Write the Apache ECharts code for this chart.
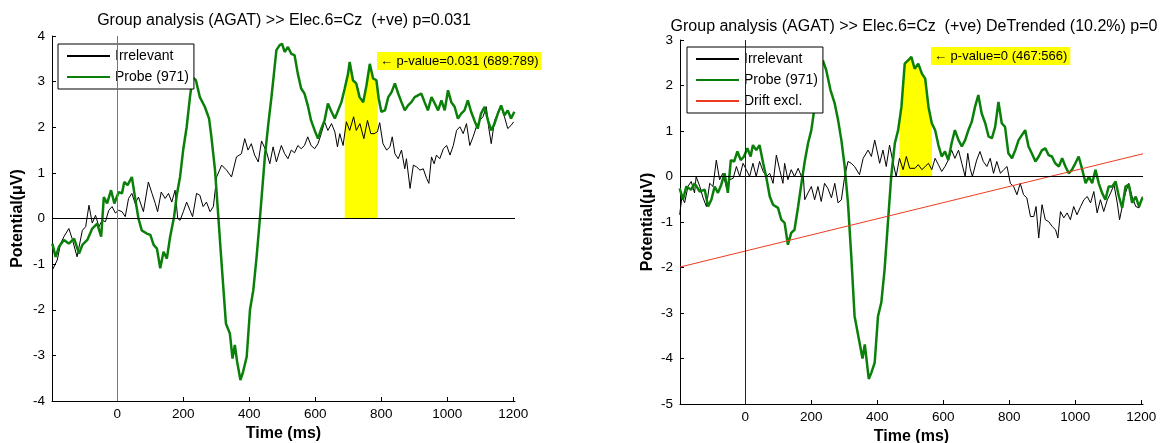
<!DOCTYPE html>
<html>
<head>
<meta charset="utf-8">
<script src="https://cdn.jsdelivr.net/npm/echarts@6/dist/echarts.min.js"></script>
<style>
  html, body { margin: 0; background: #fff; }
  #main { width: 1161px; height: 443px; }
</style>
</head>
<body>
<div id="main"></div>
<script>
// x ticks shared by both panels
var xTicks = [0, 200, 400, 600, 800, 1000, 1200];

// left panel: raw ERP
var irrLeftT = [-197,-182,-172,-162,-147,-137,-122,-106,-96,-86,-76,-66,-56,-46,-36,-26,-16,-6,4,14,24,34,44,54,64,79,94,105,115,122,133,145,155,165,175,183,190,200,210,220,228,240,250,260,270,281,291,301,316,331,346,361,376,386,396,406,416,427,437,452,462,472,482,497,507,517,527,537,547,557,567,577,587,598,608,618,628,638,649,659,667,674,684,694,704,716,724,735,747,758,768,778,788,795,805,816,826,833,841,851,861,871,876,887,897,907,917,927,937,944,952,960,967,977,988,998,1008,1018,1028,1038,1048,1058,1068,1078,1088,1098,1108,1118,1125,1133,1143,1153,1163,1173,1183,1193,1201];
var irrLeftV = [-1.13,-0.91,-0.55,-0.40,-0.22,-0.44,-0.84,-0.26,-0.18,0.29,-0.10,0.07,-0.18,-0.04,-0.07,0.18,0.26,0.12,0.18,0.15,0.04,0.44,0.55,0.33,0.47,0.15,0.80,0.55,0.33,0.15,0.58,0.44,0.55,0.36,0.62,0.00,-0.04,0.15,0.36,0.18,0.04,0.55,0.51,0.26,0.36,0.15,0.26,0.91,1.17,1.06,0.91,1.35,1.42,1.75,1.50,1.64,1.39,1.24,1.70,1.46,1.20,1.57,1.24,1.60,1.42,1.31,1.50,1.44,1.60,1.53,1.60,1.79,1.60,1.53,1.64,1.86,2.12,1.93,2.08,1.90,1.57,1.86,1.60,2.12,1.93,2.23,1.93,2.08,1.75,2.15,1.86,1.86,1.90,2.10,1.64,1.50,1.57,1.79,1.42,1.31,1.50,1.09,1.31,0.66,1.17,1.13,1.06,1.09,0.88,0.77,1.35,1.20,1.39,1.31,1.53,1.60,1.39,1.60,1.93,2.01,1.86,2.08,1.60,1.79,2.01,2.15,2.23,2.45,2.01,1.64,2.15,2.30,2.45,2.23,1.97,2.04,2.12];

var probeLeftT = [-197,-187,-177,-162,-147,-131,-116,-106,-91,-76,-61,-49,-41,-31,-19,-9,4,14,21,31,44,54,64,74,89,100,110,120,130,140,150,160,172,180,190,200,210,220,228,238,250,265,278,285,296,306,313,321,329,341,349,356,363,373,381,392,402,412,422,432,447,457,467,482,492,499,507,517,527,537,547,557,567,577,587,598,608,618,628,638,649,659,669,679,689,699,704,714,724,734,745,755,765,775,785,792,800,811,821,831,841,851,861,871,881,891,901,911,921,931,941,952,962,972,982,992,1002,1012,1022,1032,1042,1052,1062,1072,1082,1092,1102,1113,1123,1133,1143,1153,1163,1173,1183,1193,1203];
var probeLeftV = [-0.55,-0.84,-0.62,-0.47,-0.55,-0.44,-0.77,-0.58,-0.47,-0.22,-0.11,-0.40,0.47,0.33,0.62,0.33,0.58,0.55,0.80,0.73,0.91,0.44,0.00,-0.26,-0.33,-0.36,-0.58,-0.66,-1.09,-0.73,-0.88,-0.40,0.04,0.51,0.91,1.53,2.00,2.66,3.10,3.03,2.66,2.45,2.19,1.79,1.06,0.04,-0.69,-1.50,-2.30,-2.52,-3.07,-2.77,-3.14,-3.54,-3.36,-3.03,-2.00,-1.57,-0.84,0.00,1.35,2.04,2.66,3.69,3.80,3.83,3.65,3.76,3.61,3.58,3.17,2.85,2.74,2.48,2.15,1.93,1.75,1.97,2.15,2.52,2.34,2.19,2.37,2.55,2.85,3.17,3.43,3.03,2.96,2.66,2.55,2.92,3.39,3.07,3.03,2.63,2.34,2.37,2.66,2.77,2.96,2.74,2.55,2.37,2.48,2.55,2.66,2.70,2.74,2.55,2.37,2.66,2.52,2.37,2.59,2.37,2.81,2.55,2.45,2.19,2.30,2.37,2.59,2.34,2.15,1.97,2.30,2.45,2.15,1.93,2.08,2.30,2.48,2.26,2.37,2.19,2.34];

// right panel: detrended ERP
var irrRightT = [-199,-192,-184,-174,-164,-154,-149,-138,-128,-118,-108,-98,-88,-78,-68,-58,-47,-37,-27,-17,-7,3,13,23,33,43,54,64,74,84,94,104,114,119,129,139,149,160,170,175,180,190,200,210,220,230,240,250,261,271,281,291,301,311,321,331,346,357,372,382,392,402,407,417,427,437,447,457,467,478,488,498,504,514,524,535,545,555,565,575,585,595,605,615,625,635,646,656,666,674,681,688,701,711,721,732,742,752,762,773,783,793,803,813,823,833,843,853,864,874,881,889,899,909,919,930,940,947,955,965,975,985,995,1005,1016,1026,1036,1046,1056,1066,1076,1086,1097,1107,1117,1127,1134,1142,1152,1162,1172,1183,1193,1203];
var irrRightV = [-0.84,-0.44,-0.58,-0.22,-0.11,-0.36,0.00,-0.22,-0.47,-0.66,-0.15,-0.22,0.36,-0.07,0.07,-0.22,-0.07,-0.04,0.22,0.00,0.29,0.15,0.00,0.29,0.00,0.33,0.11,0.00,0.07,-0.15,0.47,0.15,-0.15,0.29,-0.07,0.15,0.00,0.18,0.00,0.11,-0.51,-0.36,-0.22,-0.51,-0.22,-0.55,-0.15,-0.26,-0.47,-0.15,-0.58,-0.51,0.00,0.33,0.29,0.22,0.04,0.40,0.58,0.44,0.80,0.47,0.29,0.58,0.22,0.69,0.33,0.00,0.40,0.15,0.44,0.18,0.22,0.18,0.26,0.15,0.22,0.29,0.15,0.40,0.26,0.11,0.22,0.36,0.58,0.40,0.58,0.29,0.00,0.51,0.18,0.00,0.36,0.55,0.33,0.22,0.40,0.07,0.33,0.07,0.15,0.22,-0.15,-0.22,-0.40,-0.15,-0.40,-0.47,-0.88,-0.88,-0.66,-1.35,-0.62,-0.95,-0.99,-1.10,-1.17,-1.35,-0.77,-0.91,-0.80,-0.95,-0.66,-0.84,-0.66,-0.51,-0.44,-0.58,-0.33,-0.80,-0.51,-0.77,-0.51,-0.36,-0.18,-0.58,-0.95,-0.66,-0.36,-0.15,-0.44,-0.66,-0.69,-0.44];

var probeRightT = [-199,-189,-179,-164,-154,-138,-123,-113,-103,-93,-83,-73,-63,-53,-44,-34,-24,-14,-4,6,16,23,33,43,54,64,74,84,99,109,119,129,139,149,160,170,180,190,200,210,220,228,235,245,258,271,281,291,301,311,321,331,346,355,362,374,382,392,402,412,422,432,442,453,463,473,483,493,503,513,524,535,545,555,565,575,585,595,605,615,625,635,646,656,666,676,686,696,706,716,727,737,747,757,767,777,787,797,808,818,828,838,848,858,868,879,889,899,909,919,929,939,950,960,970,980,990,1000,1010,1021,1031,1041,1051,1061,1071,1081,1091,1101,1112,1122,1132,1142,1152,1162,1172,1183,1193,1203];
var probeRightV = [-0.26,-0.51,-0.22,-0.29,-0.15,-0.33,-0.29,-0.66,-0.51,-0.22,-0.36,-0.18,0.07,-0.36,0.36,0.33,0.55,0.36,0.44,0.62,0.44,0.69,0.58,0.69,0.29,-0.04,-0.44,-0.62,-0.69,-0.95,-1.02,-1.50,-1.24,-1.17,-0.66,-0.15,0.33,0.73,1.02,1.53,1.90,2.48,2.55,2.34,1.90,1.60,1.24,0.80,0.22,-0.58,-1.75,-3.07,-3.65,-4.00,-3.69,-4.45,-4.31,-4.09,-3.07,-2.77,-2.04,-1.02,0.00,0.73,1.02,1.53,2.48,2.55,2.63,2.37,2.48,2.26,2.15,1.53,1.17,1.02,0.69,0.44,0.55,0.36,0.73,1.02,0.80,0.66,0.80,1.02,1.20,1.53,1.79,1.39,1.17,0.88,0.84,1.09,1.64,1.17,1.09,0.51,0.40,0.58,0.80,0.91,1.02,0.66,0.51,0.33,0.44,0.58,0.62,0.47,0.44,0.29,0.22,0.40,0.22,0.07,0.15,0.29,0.44,0.15,-0.15,0.00,-0.15,0.15,-0.15,-0.36,-0.51,-0.22,-0.22,-0.11,-0.44,-0.69,-0.22,-0.18,-0.58,-0.44,-0.66,-0.47];

// linear drift that was removed
var driftT = [-198, 1205];
var driftV = [-1.99, 0.50];

// significant windows (ms)
var sigLeft = [689, 789];
var sigRight = [467, 566];

var FONT = 'Liberation Sans, Arial, sans-serif';

function zip(t, v) {
  return t.map(function (x, i) { return [x, v[i]]; });
}

// probe curve inside [a,b], edges interpolated, for the yellow patch
function band(t, v, a, b) {
  function at(x) {
    for (var i = 1; i < t.length; i++) {
      if (t[i] >= x) {
        var f = (x - t[i - 1]) / (t[i] - t[i - 1]);
        return v[i - 1] + f * (v[i] - v[i - 1]);
      }
    }
    return v[v.length - 1];
  }
  var out = [[a, at(a)]];
  t.forEach(function (x, i) { if (x > a && x < b) out.push([x, v[i]]); });
  out.push([b, at(b)]);
  return out;
}

function xAxis(idx) {
  return {
    gridIndex: idx, type: 'value', min: -198, max: 1205,
    name: 'Time (ms)', nameLocation: 'middle', nameGap: 23,
    nameTextStyle: { fontFamily: FONT, fontSize: 16, fontWeight: 'bold', color: '#000' },
    axisLine: { onZero: false, lineStyle: { color: '#000', width: 1 } },
    axisTick: { inside: true, length: 4, customValues: xTicks, lineStyle: { color: '#000' } },
    axisLabel: { customValues: xTicks, margin: 6, fontFamily: FONT, fontSize: 13.5, color: '#000',
                 formatter: function (v) { return String(v); } },
    splitLine: { show: false }
  };
}

function yAxis(idx, lo, hi, gap) {
  return {
    gridIndex: idx, type: 'value', min: lo, max: hi, interval: 1,
    name: 'Potential(\u03bcV)', nameLocation: 'middle', nameGap: gap,
    nameTextStyle: { fontFamily: FONT, fontSize: 16, fontWeight: 'bold', color: '#000' },
    axisLine: { show: true, onZero: false, lineStyle: { color: '#000', width: 1 } },
    axisTick: { show: true, inside: true, length: 4, lineStyle: { color: '#000' } },
    axisLabel: { margin: 7, fontFamily: FONT, fontSize: 13.5, color: '#000' },
    splitLine: { show: false }
  };
}

function legend(left, top, names) {
  return {
    data: names, left: left, top: top, orient: 'vertical',
    itemWidth: 43, itemHeight: 10, itemGap: 7,
    padding: [5, 5, 5, 8],
    borderColor: '#000', borderWidth: 1, backgroundColor: '#fff',
    itemStyle: { color: 'rgba(0,0,0,0)', borderWidth: 0, opacity: 0 },
    textStyle: { fontFamily: FONT, fontSize: 14, color: '#000' },
    selectedMode: false
  };
}

function zeroLines(vColor) {
  return {
    silent: true, symbol: 'none', label: { show: false }, animation: false,
    lineStyle: { color: '#000', width: 1, type: 'solid' },
    data: [{ yAxis: 0 }, { xAxis: 0, lineStyle: { color: vColor, width: 1, type: 'solid' } }]
  };
}

function line(name, idx, data, color, width, z) {
  return {
    name: name, type: 'line', xAxisIndex: idx, yAxisIndex: idx, data: data,
    symbol: 'none', showSymbol: false, z: z,
    lineStyle: { color: color, width: width }, itemStyle: { color: color }
  };
}

function patch(idx, data, vColor) {
  return {
    name: 'sig' + idx, type: 'line', xAxisIndex: idx, yAxisIndex: idx, data: data,
    symbol: 'none', z: 1, lineStyle: { width: 0 },
    areaStyle: { color: '#ffff00', opacity: 1 },
    markLine: zeroLines(vColor)
  };
}

var GREEN = '#0a800a';

var option = {
  animation: false,
  backgroundColor: '#fff',
  title: [
    { text: 'Group analysis (AGAT) >> Elec.6=Cz  (+ve) p=0.031', left: 279, top: 8, textAlign: 'center',
      textStyle: { fontFamily: FONT, fontSize: 16, fontWeight: 'normal', color: '#000' } },
    { text: 'Group analysis (AGAT) >> Elec.6=Cz  (+ve) DeTrended (10.2%) p=0', left: 909, top: 14, textAlign: 'center',
      textStyle: { fontFamily: FONT, fontSize: 16, fontWeight: 'normal', color: '#000' } }
  ],
  grid: [
    { left: 52, top: 36, width: 463, height: 365, outerBoundsMode: 'none', containLabel: false },
    { left: 680, top: 40, width: 463, height: 364, outerBoundsMode: 'none', containLabel: false }
  ],
  xAxis: [xAxis(0), xAxis(1)],
  yAxis: [yAxis(0, -4, 4, 26), yAxis(1, -5, 3, 24)],
  legend: [
    legend(58, 44, ['Irrelevant', 'Probe (971)']),
    legend(687, 47, ['Irrelevant', 'Probe (971)', 'Drift excl.'])
  ],
  graphic: [
    { type: 'text', left: 377, top: 52, z: 100,
      style: { text: '\u2190 p-value=0.031 (689:789)', font: '13px ' + FONT, fill: '#000',
               backgroundColor: '#ffff00', padding: [3, 3, 2, 3] } },
    { type: 'text', left: 931, top: 47, z: 100,
      style: { text: '\u2190 p-value=0 (467:566)', font: '13px ' + FONT, fill: '#000',
               backgroundColor: '#ffff00', padding: [3, 3, 2, 3] } }
  ],
  series: [
    patch(0, band(probeLeftT, probeLeftV, sigLeft[0], sigLeft[1]), '#777'),
    line('Irrelevant', 0, zip(irrLeftT, irrLeftV), '#000', 1, 2),
    line('Probe (971)', 0, zip(probeLeftT, probeLeftV), GREEN, 2.5, 3),
    patch(1, band(probeRightT, probeRightV, sigRight[0], sigRight[1]), '#222'),
    line('Irrelevant', 1, zip(irrRightT, irrRightV), '#000', 1, 2),
    line('Probe (971)', 1, zip(probeRightT, probeRightV), GREEN, 2.5, 3),
    line('Drift excl.', 1, zip(driftT, driftV), '#ee3b1f', 1, 4)
  ]
};

var myChart = echarts.init(document.getElementById('main'));
myChart.setOption(option);
</script>
</body>
</html>
